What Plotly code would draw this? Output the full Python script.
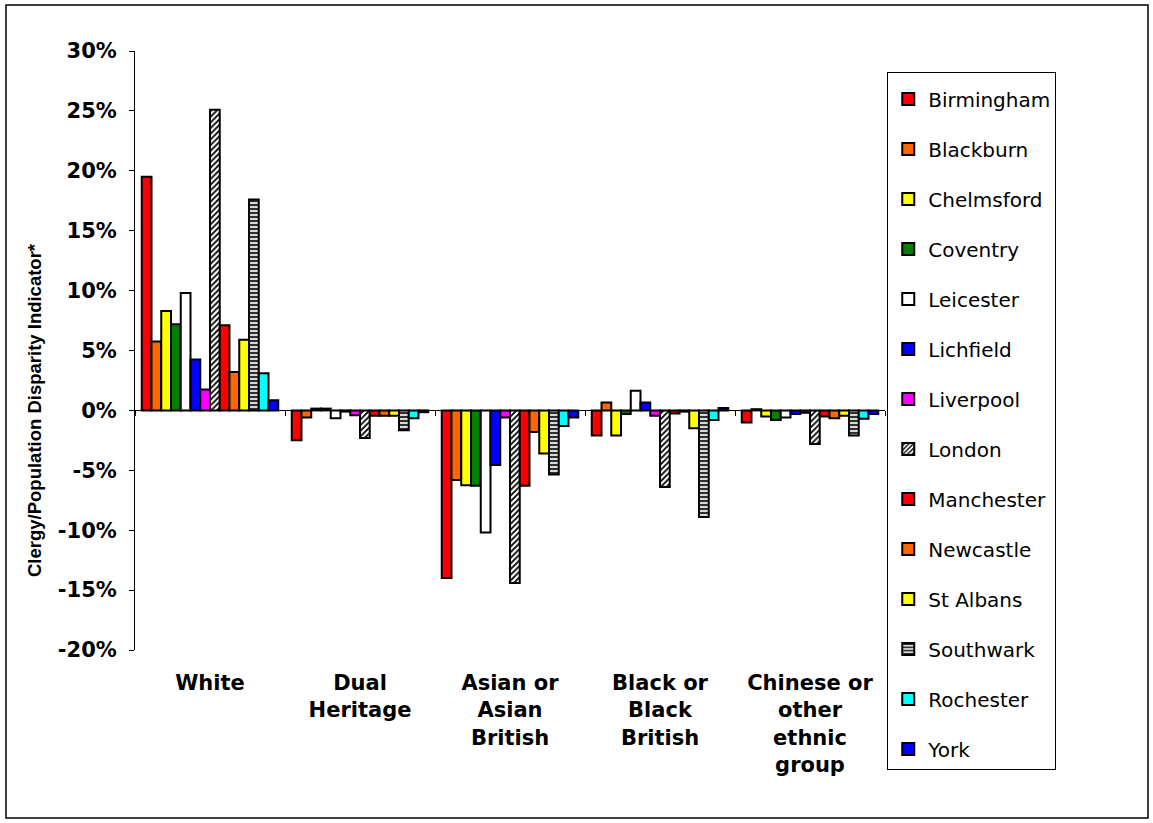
import plotly.graph_objects as go

# Ethnic group categories (x axis) and their multi-line tick labels
groups = ["White", "Dual Heritage", "Asian or Asian British",
          "Black or Black British", "Chinese or other ethnic group"]
group_labels = ["White", "Dual<br>Heritage", "Asian or<br>Asian<br>British",
                "Black or<br>Black<br>British", "Chinese or<br>other<br>ethnic<br>group"]

# Clergy/population disparity (%) per diocese, one value per ethnic group
birmingham = [19.5, -2.5, -14.0, -2.1, -1.0]
blackburn = [5.75, -0.6, -5.8, 0.65, 0.1]
chelmsford = [8.3, 0.15, -6.25, -2.1, -0.5]
coventry = [7.2, 0.15, -6.3, -0.3, -0.8]
leicester = [9.8, -0.65, -10.2, 1.65, -0.6]
lichfield = [4.25, -0.1, -4.55, 0.65, -0.3]
liverpool = [1.75, -0.4, -0.6, -0.45, -0.2]
london = [25.1, -2.3, -14.4, -6.4, -2.8]
manchester = [7.1, -0.45, -6.3, -0.25, -0.5]
newcastle = [3.2, -0.45, -1.8, -0.1, -0.65]
st_albans = [5.9, -0.45, -3.6, -1.5, -0.45]
southwark = [17.6, -1.65, -5.35, -8.9, -2.1]
rochester = [3.1, -0.65, -1.3, -0.8, -0.7]
york = [0.85, -0.15, -0.6, 0.2, -0.3]

y_ticks = [-20, -15, -10, -5, 0, 5, 10, 15, 20, 25, 30]
y_tick_labels = ["-20%", "-15%", "-10%", "-5%", "0%", "5%", "10%", "15%", "20%", "25%", "30%"]

series = [
    ("Birmingham", birmingham, "#FF0000", None),
    ("Blackburn", blackburn, "#FF6600", None),
    ("Chelmsford", chelmsford, "#FFFF00", None),
    ("Coventry", coventry, "#008000", None),
    ("Leicester", leicester, "#FFFFFF", None),
    ("Lichfield", lichfield, "#0000FF", None),
    ("Liverpool", liverpool, "#FF00FF", None),
    ("London", london, "#FFFFFF", dict(shape="/", fgcolor="#000000", bgcolor="#FFFFFF",
                                       size=4, solidity=0.45, fillmode="replace")),
    ("Manchester", manchester, "#FF0000", None),
    ("Newcastle", newcastle, "#FF6600", None),
    ("St Albans", st_albans, "#FFFF00", None),
    ("Southwark", southwark, "#C0C0C0", dict(shape="-", fgcolor="#303030", bgcolor="#D8D8D8",
                                             size=4, solidity=0.5, fillmode="replace")),
    ("Rochester", rochester, "#00FFFF", None),
    ("York", york, "#0000FF", None),
]

FONT = "Verdana, DejaVu Sans, sans-serif"

fig = go.Figure()
for i, (name, vals, color, pattern) in enumerate(series):
    marker = dict(color=color, line=dict(color="#000000", width=2))
    if pattern:
        marker["pattern"] = pattern
    fig.add_trace(go.Bar(name=name, x=groups, y=vals, marker=marker,
                         legendgroup=f"g{i}"))

# invisible trace carrying the category axis drawn along the zero line
fig.add_trace(go.Scatter(x=groups, y=[0] * len(groups), xaxis="x2", mode="markers",
                         marker=dict(opacity=0), showlegend=False, hoverinfo="skip"))

fig.update_layout(
    width=1153, height=823,
    margin=dict(l=135, r=268, t=51, b=173),
    paper_bgcolor="#FFFFFF", plot_bgcolor="#FFFFFF",
    barmode="group", bargap=0.09, bargroupgap=0,
    font=dict(family=FONT, size=19, color="#000000"),
    showlegend=True,
    legend=dict(
        x=1.003, y=0.965, xanchor="left", yanchor="top",
        bgcolor="#FFFFFF", bordercolor="#000000", borderwidth=1,
        font=dict(family=FONT, size=20, color="#000000"),
        title=dict(text=" ", font=dict(size=5)),
        traceorder="grouped", tracegroupgap=21, itemwidth=30,
        maxheight=780,
    ),
    xaxis=dict(
        type="category", categoryorder="array", categoryarray=groups,
        tickmode="array", tickvals=groups, ticktext=group_labels,
        range=[-0.5, 4.5], showline=False, ticks="", showgrid=False, zeroline=False,
        tickfont=dict(family=FONT, size=21, weight="bold"),
        ticklabelstandoff=18,
    ),
    xaxis2=dict(
        type="category", categoryorder="array", categoryarray=groups,
        overlaying="x", anchor="free", position=0.4, side="bottom",
        range=[-0.5, 4.5], showline=True, linecolor="#000000", linewidth=1,
        ticks="outside", tickson="boundaries", ticklen=5, tickcolor="#000000",
        showticklabels=False, showgrid=False, zeroline=False,
    ),
    yaxis=dict(
        range=[-20, 30], tickmode="array", tickvals=y_ticks, ticktext=y_tick_labels,
        showline=True, linecolor="#000000", linewidth=1,
        ticks="outside", ticklen=5, tickcolor="#000000",
        showgrid=False, zeroline=False,
        tickfont=dict(family=FONT, size=21, weight="bold"),
        ticklabelstandoff=8,
    ),
    annotations=[dict(
        text="Clergy/Population Disparity Indicator*", textangle=-90,
        xref="paper", yref="paper", x=(34 - 135) / 750, y=(650 - 410) / 599,
        xanchor="center", yanchor="middle", showarrow=False,
        font=dict(family="Liberation Sans, Arial, sans-serif", size=18.5, weight="bold"),
    )],
    shapes=[dict(type="rect", xref="paper", yref="paper",
                 x0=(6 - 135) / 750, x1=(1148 - 135) / 750,
                 y0=(650 - 818) / 599, y1=(650 - 5) / 599,
                 line=dict(color="#000000", width=1.5), fillcolor="rgba(0,0,0,0)",
                 layer="below")],
)

fig.write_html("out.html")
